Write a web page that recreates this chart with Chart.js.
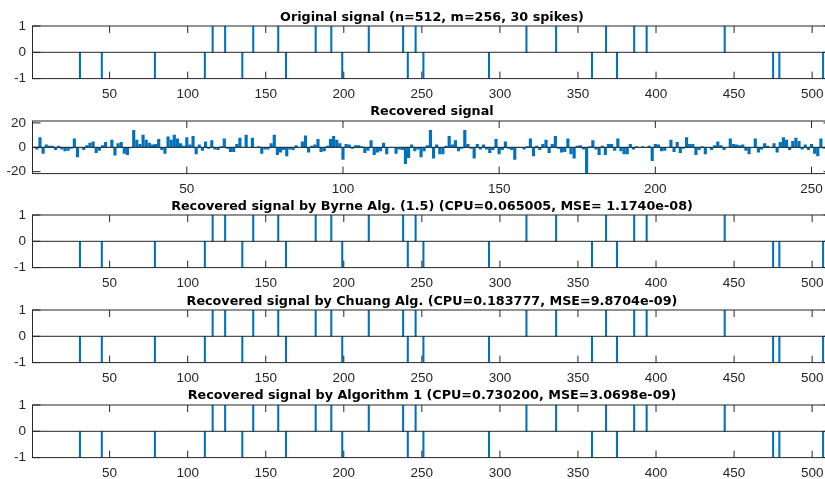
<!DOCTYPE html>
<html>
<head>
<meta charset="utf-8">
<script src="https://cdn.jsdelivr.net/npm/chart.js@4.4.0/dist/chart.umd.min.js"></script>
<style>
  html, body { margin: 0; padding: 0; background: #fff; overflow: hidden; width: 825px; height: 479px; }
  canvas { position: absolute; left: 0; }
  .title {
    position: absolute; left: 0; width: 864px; text-align: center;
    font: bold 12.75px 'DejaVu Sans', 'Liberation Sans', Arial, sans-serif;
    line-height: 15px; color: #000; white-space: pre;
  }
</style>
</head>
<body>
<script>
// spike positions in the 512-sample signal
const posSpikes = [116, 124, 142, 158, 182, 192, 216, 238, 246, 317, 336, 368, 386, 394, 444];
const negSpikes = [31, 45, 79, 111, 135, 163, 199, 241, 251, 293, 359, 375, 475, 479, 507];

// recovered signal, 256 samples
const recovered = [
  0, -1.6, 8, -5, 2, 1, 1, -2, 1, -1.5, -3, -2.5, -1, 7, -8, 0,
  -2, 1.5, 3.5, 4.5, -4.5, -2.5, 1.5, 4, 0, 6, -6.5, 3, 4, -5, -6, -0.5,
  14, 6, 2.5, 10, 6, 3.5, 2, 2.5, 6.5, -2, -5, 8.5, 6, 10, 7, 3,
  1, 8, 2, 9, -5.5, 2, -2.5, 4.5, -1, 5.5, -1.5, -2, 0.5, 7, -1, -3.5,
  -3.5, 2.5, 7.5, 0, 10, 0, 7.5, 0, 0.5, -5, -1.5, -1.5, 3, 10, -6, -4,
  -2, -7, -1.5, -2, 1.5, 0, 4.5, 9.5, -4, 1, 2, 6.5, -3.5, -3, 1, 6.5,
  9, 6, 3, -10, 2.5, 2, -1, 1.5, 1.5, 0.5, -4.5, -2.5, 5.5, -6, -4, -3,
  3.5, -5.5, 0, 0, -5, -1.5, -2, -13.5, -8.5, 2, -3, -1.5, -8, -3, 1.5, 14,
  -9, 2, -5.5, -5.5, 1, 9, 2, 5.5, -3, -1, 14, 2.5, -1, -9, 2.5, -1.5,
  2, -1.5, -4.5, -2, 6.5, -5.5, -2, 4.5, -1, -2, -10, 0, 0, -1.5, 0.5, 7,
  -7, 1, -2, 2.5, 6, -4.5, 2.5, 9, -1, -4, -3.5, 7, -5.5, -9, 1, 1.5,
  -1.5, -21.6, 0.5, 5.5, -1.5, -6, 1, -6, 2.5, 2.5, -2.5, 7, -3, -5.5, -5.5, 2.5,
  -1.5, 0.5, 0, 0.5, 0, 1, -11, 2.5, 2, -3, -2.5, 0, 6, -3.5, 4, -4.5,
  -1, 8, 2.5, 2.5, -6, -2, 0.5, -5.5, 0, -2, 1.5, 4.5, 1.5, -2, 0, 7,
  2.5, 2, 1.5, 2, -2.5, -5.5, 0, 7, -4, -1.5, 3, 1, 0, 3, -4, 4,
  8, 6, -2, 5, 7.5, 5, -1.5, 2, -2, 2.5, -5, -7, 7, -1, 1, 0.5
];

const ticks512 = [50, 100, 150, 200, 250, 300, 350, 400, 450, 500];
const ticks256 = [50, 100, 150, 200, 250];
const ticksUnit = [-1, 0, 1];
const ticks20 = [-20, 0, 20];

const titles = [
  "Original signal (n=512, m=256, 30 spikes)",
  "Recovered signal",
  "Recovered signal by Byrne Alg. (1.5) (CPU=0.065005, MSE= 1.1740e-08)",
  "Recovered signal by Chuang Alg. (CPU=0.183777, MSE=9.8704e-09)",
  "Recovered signal by Algorithm 1 (CPU=0.730200, MSE=3.0698e-09)"
];

const BLUE = "#0072BD";
const AXIS = "#262626";
Chart.defaults.font.family = "'Liberation Sans', Arial, Helvetica, sans-serif";

// matlab-like box, inward ticks and bar baseline
const matlabAxes = {
  id: "matlabAxes",
  afterDatasetsDraw(chart) {
    const { ctx, chartArea: a } = chart;
    const xs = chart.scales.x, ys = chart.scales.y;
    ctx.save();
    ctx.strokeStyle = AXIS;
    ctx.lineWidth = 1;
    ctx.beginPath();
    const y0 = ys.getPixelForValue(0);
    ctx.moveTo(a.left, y0);
    ctx.lineTo(a.right, y0);
    xs.ticks.forEach((t) => {
      const px = xs.getPixelForValue(t.value);
      ctx.moveTo(px, a.top); ctx.lineTo(px, a.top + 7);
      ctx.moveTo(px, a.bottom); ctx.lineTo(px, a.bottom - 7);
    });
    ys.ticks.forEach((t) => {
      const py = ys.getPixelForValue(t.value);
      ctx.moveTo(a.left, py); ctx.lineTo(a.left + 8, py);
      ctx.moveTo(a.right, py); ctx.lineTo(a.right - 8, py);
    });
    ctx.stroke();
    ctx.strokeRect(a.left, a.top, a.right - a.left, a.bottom - a.top);
    ctx.restore();
  }
};

const spikePoints = [
  ...posSpikes.map((i) => ({ x: i, y: 1 })),
  ...negSpikes.map((i) => ({ x: i, y: -1 }))
];
const recoveredPoints = recovered.map((v, i) => ({ x: i + 1, y: v }));

const panels = [
  { data: spikePoints, n: 512, xt: ticks512, ymax: 1, yt: ticksUnit, bw: 1.4 },
  { data: recoveredPoints, n: 256, xt: ticks256, ymax: 21.6, yt: ticks20, bw: 2.5 },
  { data: spikePoints, n: 512, xt: ticks512, ymax: 1, yt: ticksUnit, bw: 1.4 },
  { data: spikePoints, n: 512, xt: ticks512, ymax: 1, yt: ticksUnit, bw: 1.4 },
  { data: spikePoints, n: 512, xt: ticks512, ymax: 1, yt: ticksUnit, bw: 1.4 }
];

const STEP = 94.7;

panels.forEach((p, k) => {
  const canvas = document.createElement("canvas");
  canvas.width = 840;
  canvas.height = 100;
  canvas.style.top = (k * STEP) + "px";
  document.body.appendChild(canvas);

  const title = document.createElement("div");
  title.className = "title";
  title.textContent = titles[k];
  title.style.top = (k * STEP + 8.5) + "px";
  document.body.appendChild(title);

  new Chart(canvas, {
    type: "bar",
    data: {
      datasets: [{
        data: p.data,
        backgroundColor: BLUE,
        borderWidth: 0,
        barThickness: p.bw
      }]
    },
    options: {
      responsive: false,
      animation: false,
      layout: { padding: { left: 0, right: 8.5, top: 26, bottom: 0 } },
      plugins: {
        legend: { display: false },
        tooltip: { enabled: false }
      },
      scales: {
        x: {
          type: "linear",
          min: 0.6,
          max: p.n + 0.4,
          offset: false,
          grid: { display: false, drawTicks: false, offset: false },
          border: { display: false },
          afterBuildTicks: (s) => { s.ticks = p.xt.map((v) => ({ value: v })); },
          afterFit: (s) => { s.height = 21.4; },
          ticks: { color: AXIS, font: { size: 13.5 }, padding: 7.5, maxRotation: 0, autoSkip: false }
        },
        y: {
          min: -p.ymax,
          max: p.ymax,
          grid: { display: false, drawTicks: false },
          border: { display: false },
          afterBuildTicks: (s) => { s.ticks = p.yt.map((v) => ({ value: v })); },
          afterFit: (s) => { s.width = 32.5; },
          ticks: { color: AXIS, font: { size: 13.5 }, padding: 6.5 }
        }
      }
    },
    plugins: [matlabAxes]
  });
});
</script>
</body>
</html>
